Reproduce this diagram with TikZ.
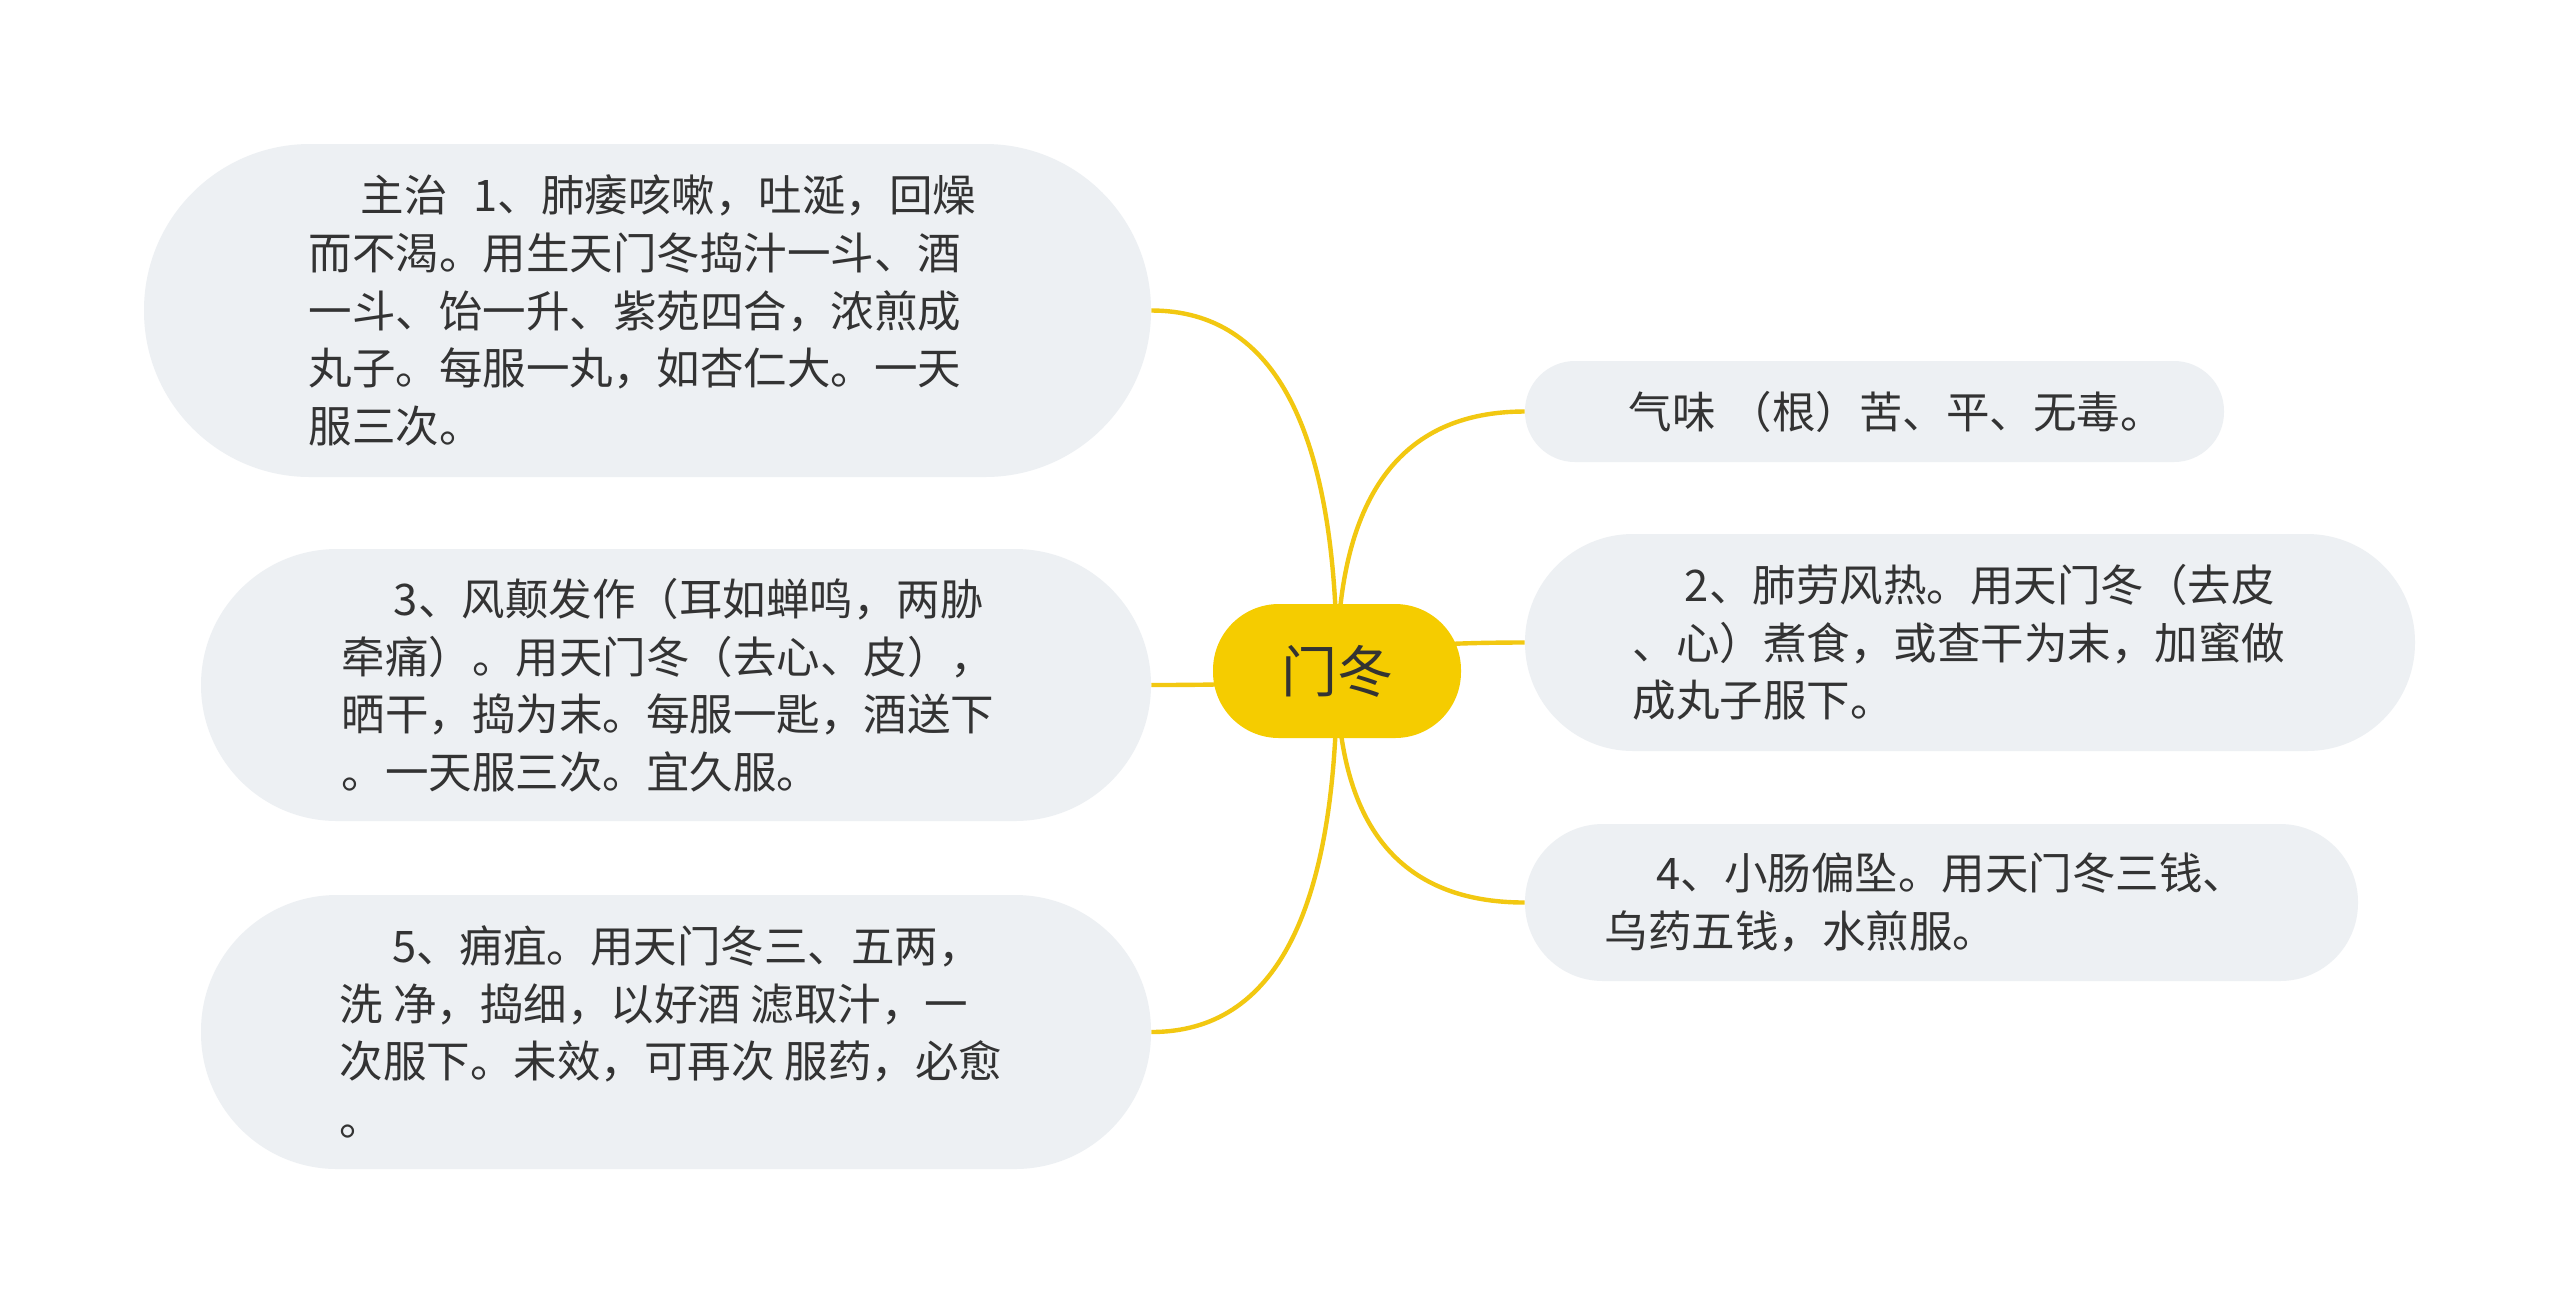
\documentclass[tikz,border=0pt]{standalone}
\usepackage{fontspec}
\newfontfamily\cjkfont{Noto Sans CJK SC}
\usetikzlibrary{calc,backgrounds}
\definecolor{rootgold}{HTML}{F5CC00}
\definecolor{branchgold}{HTML}{F2C811}
\definecolor{leafgray}{HTML}{EDF0F3}
\definecolor{inkgray}{HTML}{333333}
\tikzset{
  root/.style={fill=rootgold, text=inkgray, inner sep=0pt,
    font=\cjkfont\fontsize{28}{34}\selectfont},
  leaf/.style={fill=leafgray, text=inkgray, inner sep=0pt, align=left,
    font=\cjkfont\fontsize{21.75}{28.8}\selectfont},
  branch/.style={draw=branchgold, line width=2.2pt}
}
\begin{document}
\begin{tikzpicture}[x=0.5pt,y=-0.5pt]
    \useasboundingbox (0,0) rectangle (2560,1314);
    \node[root, minimum width=124pt, minimum height=67pt, rounded corners=33pt] (root) at (1337,671) {门冬};
    % left side
    \node[leaf, minimum width=503.5pt, minimum height=166.5pt, rounded corners=83pt] (zhuzhi) at (647.5,310.5)
      {\hspace*{1.2em}主治\hspace{0.6em}1、肺痿咳嗽，吐涎，回燥\kern5pt\\
       而不渴。用生天门冬捣汁一斗、酒\\
       一斗、饴一升、紫苑四合，浓煎成\\
       丸子。每服一丸，如杏仁大。一天\\
       服三次。};
    \node[leaf, minimum width=475pt, minimum height=136pt, rounded corners=68pt] (fengdian) at (676,685)
      {\hspace*{1.2em}3、风颠发作（耳如蝉鸣，两胁\\
       牵痛）。用天门冬（去心、皮），\\
       晒干，捣为末。每服一匙，酒送下\kern8pt\\
       。一天服三次。宜久服。};
    \node[leaf, minimum width=475pt, minimum height=137pt, rounded corners=68pt] (yongju) at (676,1032)
      {\hspace*{1.2em}5、痈疽。用天门冬三、五两，\\
       洗 净，捣细，以好酒 滤取汁，一\\
       次服下。未效，可再次 服药，必愈\kern5pt\\
       。};
    % right side
    \node[leaf, minimum width=349.5pt, minimum height=50.5pt, rounded corners=25pt] (qiwei) at (1874.5,411.5)
      {\hspace*{1em}气味\hspace{0.3em}（根）苦、平、无毒。};
    \node[leaf, minimum width=445pt, minimum height=108.5pt, rounded corners=54pt] (feilao) at (1970,642.5)
      {\hspace*{1.2em}2、肺劳风热。用天门冬（去皮\\
       、心）煮食，或查干为末，加蜜做\kern11pt\\
       成丸子服下。};
    \node[leaf, minimum width=416.5pt, minimum height=78.5pt, rounded corners=39pt] (xiaochang) at (1941.5,902.5)
      {\hspace*{1.2em}4、小肠偏坠。用天门冬三钱、\kern16pt\\
       乌药五钱，水煎服。};
    \begin{scope}[on background layer]
      \fill[white] (0,0) rectangle (2560,1314);
      \foreach \leaf/\side in {zhuzhi/east,fengdian/east,yongju/east,qiwei/west,feilao/west,xiaochang/west}
        \draw[branch] (root.center)
          .. controls ($(root.center)!0.667!(root.center |- \leaf.\side)$)
          and ($(\leaf.\side)!0.667!(root.center |- \leaf.\side)$) .. (\leaf.\side);
    \end{scope}
\end{tikzpicture}
\end{document}
